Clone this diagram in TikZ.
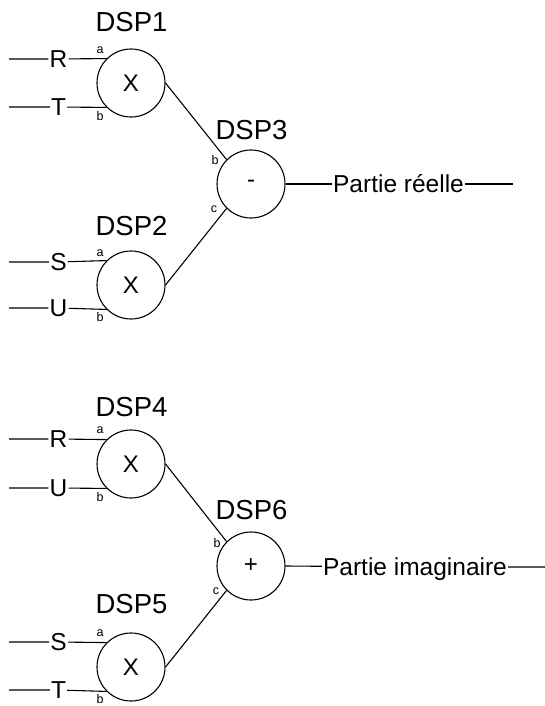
\documentclass[tikz,border=0pt]{standalone}
\usepackage{fontspec}
\setmainfont{Liberation Sans}
\begin{document}
\begin{tikzpicture}[x=1pt,y=-1pt,
  dsp/.style={circle,draw,line width=1.1pt,minimum size=68pt,inner sep=0pt,font=\fontsize{24}{24}\selectfont},
  ttl/.style={inner sep=0pt,font=\fontsize{27.5}{27.5}\selectfont},
  sig/.style={inner sep=1pt,text height=17pt,text depth=0pt,font=\fontsize{24.5}{24.5}\selectfont},
  port/.style={inner sep=0pt,font=\fontsize{12.5}{12.5}\selectfont},
  wire/.style={line width=1.1pt}]
\useasboundingbox (0,0) rectangle (545,706);

% ---------- top group ----------
\node[dsp] (d1) at (131,83) {X};
\node[ttl] (t1) at (131.5,22) {DSP1};
\node[dsp] (d2) at (131,285) {X};
\node[ttl] (t2) at (131.5,226) {DSP2};
\node[dsp] (d3) at (251,184) {-};
\node[ttl] (t3) at (251.5,130) {DSP3};

\coordinate (i1a) at (9,59);
\node[sig] (s1a) at (58.5,59) {R};
\coordinate (i1b) at (9,107);
\node[sig] (s1b) at (58.5,107) {T};
\coordinate (i2a) at (9,262);
\node[sig] (s2a) at (58.5,262) {S};
\coordinate (i2b) at (9,308);
\node[sig] (s2b) at (58.5,308) {U};

\draw[wire] (i1a) -- (s1a) -- (d1.135);
\draw[wire] (i1b) -- (s1b) -- (d1.225);
\draw[wire] (i2a) -- (s2a) -- (d2.135);
\draw[wire] (i2b) -- (s2b) -- (d2.225);

\node[port] (p1a) at (100,50) {a};
\node[port] (p1b) at (100,116) {b};
\node[port] (p2a) at (100,253) {a};
\node[port] (p2b) at (100,317) {b};
\node[port] (p3b) at (215,160) {b};
\node[port] (p3c) at (214,209) {c};

\draw[wire] (d1.east) -- (d3.135);
\draw[wire] (d2.east) -- (d3.225);

\node[sig] (out1) at (398.5,184) {Partie réelle};
\coordinate (e1) at (513,184);
\draw[wire] (d3.east) -- (out1) -- (e1);

% ---------- bottom group ----------
\node[dsp] (d4) at (131,464) {X};
\node[ttl] (t4) at (131.5,407) {DSP4};
\node[dsp] (d5) at (131,667) {X};
\node[ttl] (t5) at (131.5,604) {DSP5};
\node[dsp] (d6) at (251,566) {+};
\node[ttl] (t6) at (251.5,510) {DSP6};

\coordinate (i4a) at (9,439);
\node[sig] (s4a) at (58.5,439) {R};
\coordinate (i4b) at (9,488);
\node[sig] (s4b) at (58.5,488) {U};
\coordinate (i5a) at (9,642);
\node[sig] (s5a) at (58.5,642) {S};
\coordinate (i5b) at (9,690);
\node[sig] (s5b) at (58.5,690) {T};

\draw[wire] (i4a) -- (s4a) -- (d4.135);
\draw[wire] (i4b) -- (s4b) -- (d4.225);
\draw[wire] (i5a) -- (s5a) -- (d5.135);
\draw[wire] (i5b) -- (s5b) -- (d5.225);

\node[port] (p4a) at (100,430) {a};
\node[port] (p4b) at (100,497) {b};
\node[port] (p5a) at (100,633) {a};
\node[port] (p5b) at (100,699) {b};
\node[port] (p6b) at (217,543) {b};
\node[port] (p6c) at (216,591) {c};

\draw[wire] (d4.east) -- (d6.135);
\draw[wire] (d5.east) -- (d6.225);

\node[sig] (out2) at (415,567) {Partie imaginaire};
\coordinate (e2) at (545,567);
\draw[wire] (d6.east) -- (out2) -- (e2);
\end{tikzpicture}
\end{document}
